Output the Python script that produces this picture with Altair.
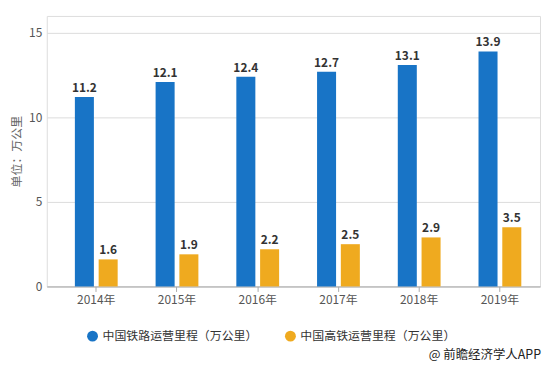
import altair as alt
import pandas as pd

years = ["2014年", "2015年", "2016年", "2017年", "2018年", "2019年"]
series_names = ["中国铁路运营里程（万公里）", "中国高铁运营里程（万公里）"]
rail = [11.2, 12.1, 12.4, 12.7, 13.1, 13.9]
hsr = [1.6, 1.9, 2.2, 2.5, 2.9, 3.5]
colors = ["#1874C6", "#EFAA1F"]

rows = []
for i, y in enumerate(years):
    rows.append({"year": y, "series": series_names[0], "value": rail[i]})
    rows.append({"year": y, "series": series_names[1], "value": hsr[i]})
df = pd.DataFrame(rows)

FONT = "Noto Sans CJK SC"

x = alt.X("year:N", sort=years,
          scale=alt.Scale(paddingInner=0.47, paddingOuter=0.29, align=0.6),
          axis=alt.Axis(title=None, labelAngle=0, labelColor="#555", labelFontSize=12,
                        domainColor="#aaa", tickColor="#aaa", tickSize=5, labelPadding=3,
                        grid=False))
xo = alt.XOffset("series:N", sort=series_names,
                 scale=alt.Scale(paddingInner=0.2, paddingOuter=0))

base = alt.Chart(df)

bars = base.mark_bar().encode(
    x=x, xOffset=xo,
    y=alt.Y("value:Q", scale=alt.Scale(domain=[0, 15]),
            axis=alt.Axis(values=[0, 5, 10, 15], title="单位：万公里", titleColor="#666",
                          titleFontSize=12, titleFontWeight="normal", labelColor="#555",
                          labelFontSize=12, domain=False, ticks=False, gridColor="#dcdcdc",
                          labelPadding=5, titlePadding=5)),
    color=alt.Color("series:N", sort=series_names,
                    scale=alt.Scale(domain=series_names, range=colors),
                    legend=alt.Legend(title=None, orient="none", legendX=40, legendY=316,
                                      direction="horizontal", symbolType="circle",
                                      symbolSize=120, labelFontSize=12, labelColor="#333",
                                      columnPadding=26, symbolStrokeWidth=0,
                                      labelLimit=0, labelFont=FONT)),
)

labels = base.mark_text(dy=-9, fontWeight="bold", fontSize=12, color="#333", font=FONT).encode(
    x=x, xOffset=xo,
    y="value:Q",
    text=alt.Text("value:Q", format=".1f"),
)

chart = (bars + labels).properties(
    width=496, height=272,
    autosize=alt.AutoSizeParams(type="none"),
    padding={"left": 39, "top": 7, "right": 6, "bottom": 79},
    title=alt.TitleParams("@ 前瞻经济学人APP", orient="bottom", anchor="end",
                          fontSize=12.5, fontWeight="normal", color="#222", font=FONT,
                          offset=7, dx=1),
).configure_view(stroke=None).configure(font=FONT)

chart.save("out.html", embed_options={"renderer": "svg", "actions": False})
